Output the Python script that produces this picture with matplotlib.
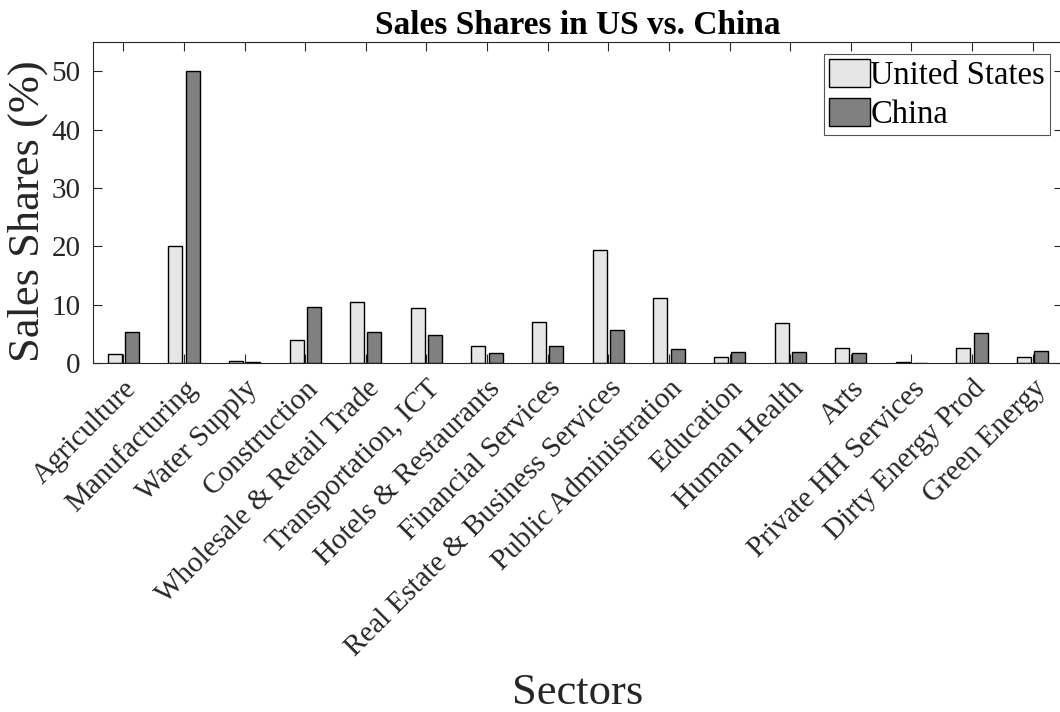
import numpy as np
import matplotlib
matplotlib.use('Agg')
import matplotlib.pyplot as plt

plt.rcParams['font.family'] = ['Liberation Serif', 'DejaVu Serif']

# datos
sectores = ['Agriculture', 'Manufacturing', 'Water Supply', 'Construction',
            'Wholesale & Retail Trade', 'Transportation, ICT', 'Hotels & Restaurants',
            'Financial Services', 'Real Estate & Business Services',
            'Public Administration', 'Education', 'Human Health', 'Arts',
            'Private HH Services', 'Dirty Energy Prod', 'Green Energy']
usa = [1.6, 20.1, 0.35, 3.9, 10.5, 9.5, 2.9, 7.1, 19.4, 11.1, 1.0, 6.8, 2.5, 0.15, 2.5, 1.0]
china = [5.3, 50.0, 0.25, 9.6, 5.3, 4.8, 1.7, 2.9, 5.6, 2.4, 1.9, 1.8, 1.7, 0.05, 5.1, 2.0]
yticks = [0, 10, 20, 30, 40, 50]

gris_oscuro = '#262626'

fig = plt.figure(figsize=(10.6, 7.12), dpi=100)
ax = fig.add_axes([93/1060, 1-363/712, 970/1060, 321/712])

x = np.arange(1, len(sectores) + 1)
ancho = 0.23
off = 0.142
ax.bar(x - off, usa, ancho, color='#e6e6e6', edgecolor='black', linewidth=1,
       label='United States', zorder=2)
ax.bar(x + off, china, ancho, color='#808080', edgecolor='black', linewidth=1,
       label='China', zorder=2)

ax.set_xlim(0.5, 16.5)
ax.set_ylim(0, 55)
ax.set_yticks(yticks)
ax.set_xticks(x)
ax.set_xticklabels(sectores, rotation=45, ha='right', va='top',
                   rotation_mode='anchor', fontsize=21, color=gris_oscuro)
ax.tick_params(axis='both', direction='in', length=6.5, width=0.8,
               top=True, right=True, colors=gris_oscuro, labelsize=21)
ax.tick_params(axis='x', pad=9)
ax.tick_params(axis='y', pad=9)
for s in ax.spines.values():
    s.set_color(gris_oscuro)
    s.set_linewidth(0.8)

ax.set_title('Sales Shares in US vs. China', fontsize=24, fontweight='bold', pad=6)
ax.set_ylabel('Sales Shares (%)', fontsize=32, color=gris_oscuro)
ax.yaxis.set_label_coords(-0.046, 0.472)
fig.text(578/1060, 1-704/712, 'Sectors', fontsize=32, color=gris_oscuro,
         ha='center', va='baseline')

leg = ax.legend(loc='upper right', bbox_to_anchor=(0.9866, 0.9626), fontsize=23.5,
                frameon=True, fancybox=False, framealpha=1, borderpad=0.15,
                handlelength=1.28, handleheight=0.95, handletextpad=0.0,
                labelspacing=0.2, borderaxespad=0)
leg.get_frame().set_edgecolor('#555555')
leg.get_frame().set_linewidth(0.8)

plt.savefig('out.png', dpi=100)
